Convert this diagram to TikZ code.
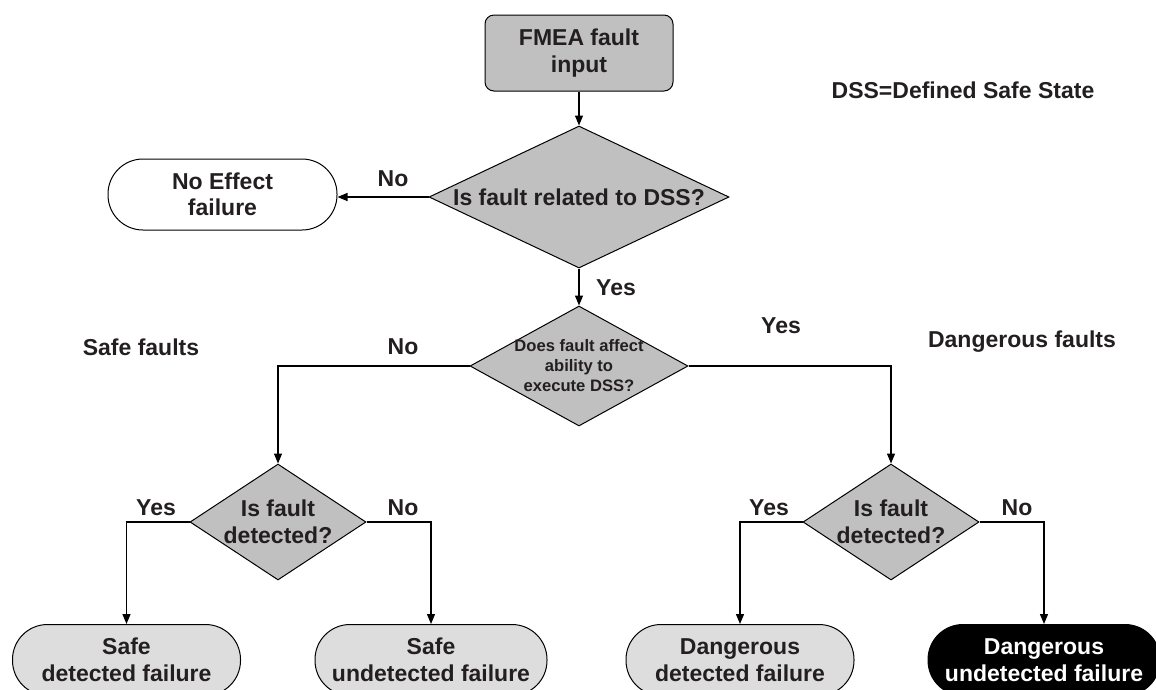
\documentclass[tikz,border=0pt]{standalone}
\usepackage{fontspec}
\setmainfont{Liberation Sans}
\usetikzlibrary{shapes.geometric,arrows.meta}
\definecolor{ink}{HTML}{231F20}
\definecolor{boxgray}{HTML}{C0C0C0}
\definecolor{endgray}{HTML}{DDDDDD}
\begin{document}
\begin{tikzpicture}[x=1pt,y=-1pt,
  every node/.style={font=\bfseries\fontsize{23}{26.5}\selectfont,text=ink,align=center},
  smalltext/.style={font=\bfseries\fontsize{16.6}{20}\selectfont},
  conn/.style={line width=1.3pt,draw=black},
  arr/.style={conn,-{Triangle[length=10pt,width=8pt]}},
  startbox/.style={rectangle,rounded corners=9pt,draw=black,line width=1pt,fill=boxgray,
    minimum width=188pt,minimum height=76pt,inner sep=0pt},
  decision/.style={diamond,draw=black,line width=1pt,fill=boxgray,inner sep=0pt},
  terminal/.style={rectangle,rounded corners=35pt,draw=black,line width=1pt,
    minimum height=71pt,inner sep=0pt},
]
\useasboundingbox (0,0) rectangle (1156,689);
\clip (0,0) rectangle (1156,689);

% start
\node[startbox] (fmea) at (579,53) {FMEA fault\\input};
\node (dss) at (963,90) {DSS=Defined Safe State};

% first decision
\node[decision,minimum width=300pt,minimum height=142pt] (q1) at (579,197) {};
\node (q1t) at (q1.center) {Is fault related to DSS?};
\node[terminal,fill=white,minimum width=229pt] (noeff) at (222.5,194.5) {No Effect\\failure};

% second decision
\node[decision,minimum width=218pt,minimum height=120pt] (q2) at (579,366) {};
\node[smalltext] (q2t) at (q2.center) {Does fault affect\\ability to\\execute DSS?};

% detection decisions
\node[decision,minimum width=176pt,minimum height=116pt] (q3) at (278,522) {};
\node (q3t) at (q3.center) {Is fault\\detected?};
\node[decision,minimum width=176pt,minimum height=116pt] (q4) at (891,522) {};
\node (q4t) at (q4.center) {Is fault\\detected?};

% group headings
\node (safe) at (141,347) {Safe faults};
\node (dang) at (1022,342) {Dangerous faults};

% outcomes
\node[terminal,fill=endgray,minimum width=228pt] (sd) at (126.5,660) {Safe\\detected failure};
\node[terminal,fill=endgray,minimum width=232pt] (su) at (431,660) {Safe\\undetected failure};
\node[terminal,fill=endgray,minimum width=228pt] (dd) at (740,660) {Dangerous\\detected failure};
\node[terminal,fill=black,minimum width=232pt,text=white] (du) at (1044,660) {Dangerous\\undetected failure};

% connectors
\draw[arr] (fmea) -- (q1);
\draw[arr] (q1.west) -- (q1.west -| noeff.east);
\draw[arr] (q1) -- (q2);
\draw[arr] (q2.west) -| (q3.north);
\draw[arr] (q2.east) -| (q4.north);
\draw[arr] (q3.west) -| (sd.north);
\draw[arr] (q3.east) -| (su.north);
\draw[arr] (q4.west) -| (dd.north);
\draw[arr] (q4.east) -| (du.north);

% branch labels
\node (l1) at (393,179) {No};
\node (l2) at (616,288) {Yes};
\node (l3) at (403,347) {No};
\node (l4) at (781,326) {Yes};
\node (l5) at (156,508) {Yes};
\node (l6) at (403,508) {No};
\node (l7) at (769,508) {Yes};
\node (l8) at (1017,508) {No};
\end{tikzpicture}
\end{document}
